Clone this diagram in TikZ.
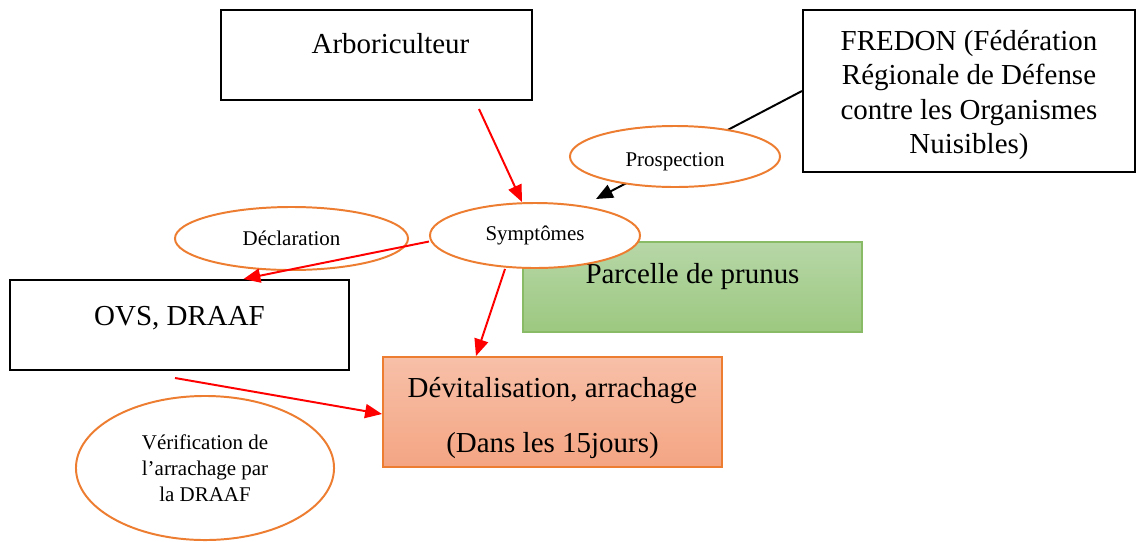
\documentclass[tikz,border=0pt]{standalone}
\usepackage{fontspec}
\setmainfont{Liberation Serif}
\usepackage{xcolor}
\usetikzlibrary{shapes.geometric,arrows.meta}

\definecolor{ovalorange}{RGB}{237,125,49}
\definecolor{greentop}{RGB}{183,215,167}
\definecolor{greenbot}{RGB}{156,200,128}
\definecolor{greenline}{RGB}{137,187,102}
\definecolor{salmontop}{RGB}{247,192,168}
\definecolor{salmonbot}{RGB}{244,165,131}

\newcommand{\bigtxt}{\fontsize{20.6}{25}\selectfont}
\newcommand{\smalltxt}{\fontsize{14.9}{18.5}\selectfont}

\begin{document}
\begin{tikzpicture}[
    x=0.025cm,
    y=-0.025cm,
    block/.style={
        rectangle,
        draw,
        line width=1.4pt,
        font=\bigtxt,
        align=center,
        inner sep=0pt
    },
    topline/.style={
        text height=14pt,
        text depth=14pt
    },
    oval/.style={
        ellipse,
        draw=ovalorange,
        fill=white,
        line width=1.4pt,
        font=\smalltxt,
        align=center,
        inner sep=0pt
    },
    line/.style={
        draw,
        -{Triangle[length=12pt,width=10pt]},
        line width=1.4pt,
        color=red
    },
    visit/.style={
        draw,
        -{Triangle[length=12pt,width=10pt]},
        line width=1.4pt,
        color=black
    }
]
    \useasboundingbox (0,0) rectangle (1138,541);

    % Components
    \node [block, topline, text depth=16pt, minimum width=7.775cm, minimum height=2.25cm] (arb) at (376.5,55)
        {\hspace*{0.7cm}Arboriculteur};
    \node [block, minimum width=8.3cm, minimum height=4.05cm] (fredon) at (969,91)
        {\rule{0pt}{20pt}FREDON (Fédération\\[-0.6pt] Régionale de Défense\\[-0.6pt] contre les Organismes\\[-0.6pt] Nuisibles)};
    \node [block, topline, text depth=19.5pt, draw=greenline, top color=greentop, bottom color=greenbot,
        minimum width=8.475cm, minimum height=2.25cm] (parcelle) at (692.5,287) {Parcelle de prunus};
    \node [block, topline, minimum width=8.475cm, minimum height=2.25cm] (ovs) at (179.5,325) {OVS, DRAAF};
    \node [block, draw=ovalorange, top color=salmontop, bottom color=salmonbot,
        minimum width=8.475cm, minimum height=2.75cm] (devit) at (552.5,412)
        {\rule{0pt}{23pt}Dévitalisation, arrachage\\[14pt] (Dans les 15jours)};

    \node [oval, minimum width=5.25cm, minimum height=1.625cm] (sym) at (535,235.5) {Symptômes};

    % Prospection line (under the oval)
    \path [visit] (fredon.west) -- ([shift={(61,-3)}]sym.north);

    \node [oval, minimum width=5.25cm, minimum height=1.525cm, text depth=0pt] (prosp) at (675,156.5)
        {\raisebox{-4pt}{Prospection}};
    \node [oval, minimum width=5.825cm, minimum height=1.575cm] (decl) at (291.5,238.5) {Déclaration};
    \node [oval, minimum width=6.45cm, minimum height=3.6cm] (verif) at (205,468)
        {Vérification de\\ l’arrachage par\\ la DRAAF};

    % Red Connections
    \path [line] ([shift={(102.5,8)}]arb.south) -- ([shift={(-13,0)}]sym.north);
    \path [line] ([shift={(0,6)}]sym.west) -- ([shift={(64,0)}]ovs.north);
    \path [line] ([shift={(-30,0)}]sym.south) -- ([shift={(-76.5,0)}]devit.north);
    \path [line] ([shift={(-4.5,7)}]ovs.south) -- ([shift={(0,2)}]devit.west);

\end{tikzpicture}
\end{document}
